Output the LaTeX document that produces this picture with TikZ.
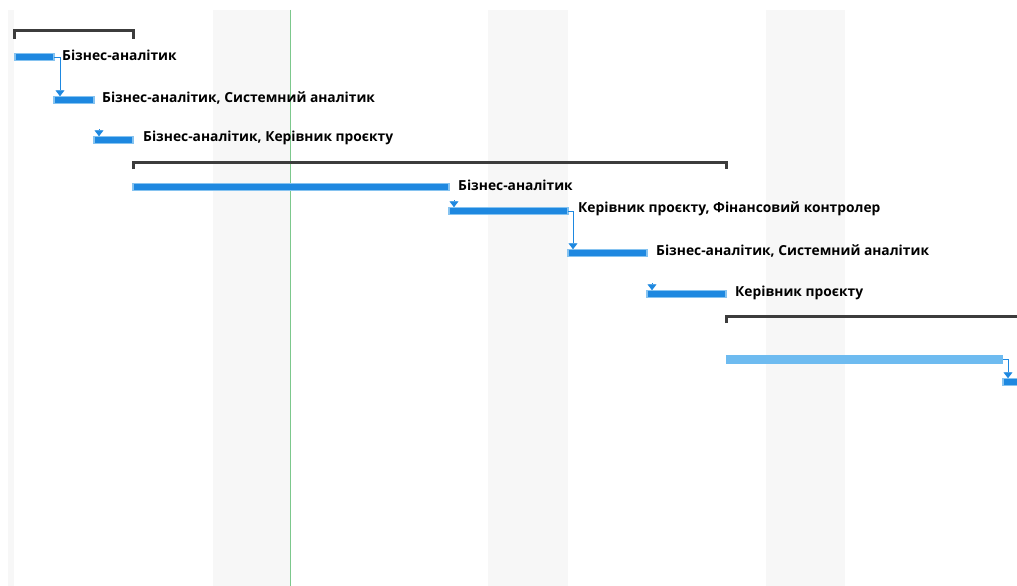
\documentclass[tikz,border=0pt]{standalone}
\usepackage{fontspec}
\setmainfont{Open Sans}
\usetikzlibrary{arrows.meta,calc}
\definecolor{barblue}{HTML}{1E88E0}
\definecolor{barlight}{HTML}{86C3F0}
\definecolor{sumblue}{HTML}{6EBBF0}
\definecolor{shade}{HTML}{F7F7F7}
\definecolor{today}{HTML}{7CC88C}
\definecolor{bracketgray}{HTML}{3C3C3C}
\begin{document}
\begin{tikzpicture}[x=1pt,y=-1pt,
  taskbar/.style={fill=barblue, draw=barlight, line width=1.1pt, minimum height=7.5pt,
    inner sep=0pt, outer sep=0pt, anchor=west},
  rollup/.style={fill=sumblue, draw=none, minimum height=9pt,
    inner sep=0pt, outer sep=0pt, anchor=west},
  res/.style={anchor=west, inner sep=0pt, font=\bfseries\fontsize{13.8}{16}\selectfont},
  dep/.style={draw=barblue, line width=0.9pt, -{Triangle[width=9pt,length=6pt]}},
  summary/.style={draw=bracketgray, line width=3pt},
  band/.style={fill=shade, draw=none}]
\useasboundingbox (0,0) rectangle (1017,586);
\fill[white] (0,0) rectangle (1017,586);

% non-working day bands and the current-date line
\path[band] (8,10) rectangle (14,586);
\path[band] (213,10) rectangle (290,586);
\path[band] (488,10) rectangle (568,586);
\path[band] (766,10) rectangle (845,586);
\draw[today, line width=1.2pt] (290.5,10) -- (290.5,586);

% summary brackets
\draw[summary] (14,39) -- (14,31) -- (133,31) -- (133,39);
\draw[summary] (133,169) -- (133,162) -- (726,162) -- (726,169);
\draw[summary] (726,323) -- (726,316) -- (1017,316);

% task bars
\node[taskbar, minimum width=39pt]  (b1) at (15,57)  {};
\node[taskbar, minimum width=40pt]  (b2) at (54,100) {};
\node[taskbar, minimum width=39pt]  (b3) at (94,140) {};
\node[taskbar, minimum width=316pt] (b4) at (133,187) {};
\node[taskbar, minimum width=119pt] (b5) at (449,211) {};
\node[taskbar, minimum width=79pt]  (b6) at (568,253) {};
\node[taskbar, minimum width=79pt]  (b7) at (647,294) {};
\node[rollup,  minimum width=277pt] (b8) at (726,359) {};
\node[taskbar, minimum width=20pt]  (b9) at (1003,382) {};

% resource labels
\node[res] (r1) at (62,55)  {Бізнес-аналітик};
\node[res] (r2) at (102,98) {Бізнес-аналітик, Системний аналітик};
\node[res] (r3) at (143,138) {Бізнес-аналітик, Керівник проєкту};
\node[res] (r4) at (458,185) {Бізнес-аналітик};
\node[res] (r5) at (578,209) {Керівник проєкту, Фінансовий контролер};
\node[res] (r6) at (656,251) {Бізнес-аналітик, Системний аналітик};
\node[res] (r7) at (735,293) {Керівник проєкту};

% dependencies
\draw[dep] (b1.east) -| ($(b2.north west)+(6,0)$);
\draw[dep] ($(b3.north west)+(5,-7)$) -- ($(b3.north west)+(5,0)$);
\draw[dep] ($(b5.north west)+(5,-7)$) -- ($(b5.north west)+(5,0)$);
\draw[dep] (b5.east) -| ($(b6.north west)+(5,0)$);
\draw[dep] ($(b7.north west)+(5,-7)$) -- ($(b7.north west)+(5,0)$);
\draw[dep] (b8.east) -| ($(b9.north west)+(5,0)$);
\end{tikzpicture}
\end{document}
